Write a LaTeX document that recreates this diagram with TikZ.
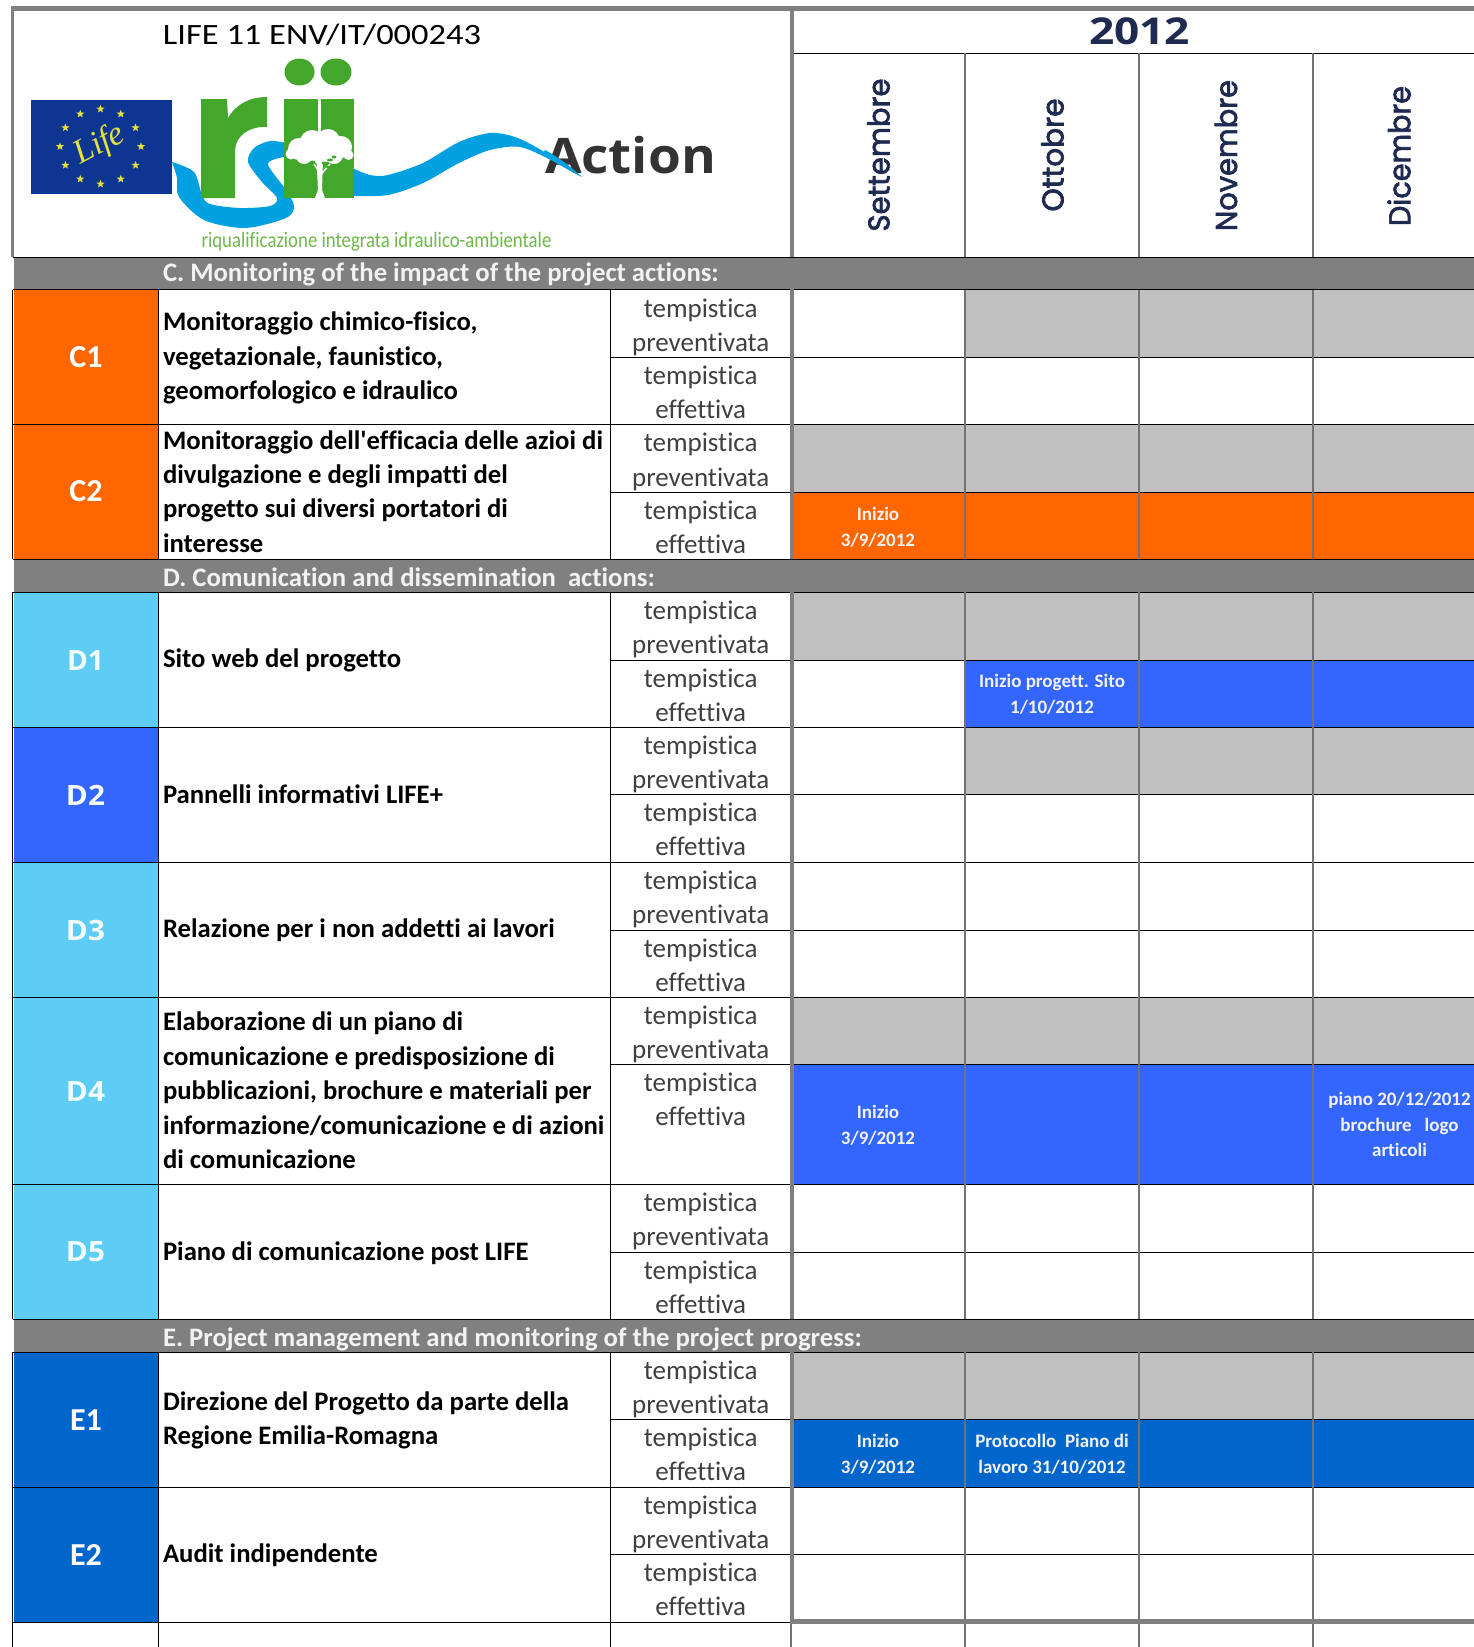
\documentclass[tikz,border=0pt]{standalone}
\usepackage{fontspec}
\usepackage{graphicx}
\usetikzlibrary{shapes.geometric}
\setmainfont[Ligatures={NoCommon,TeXOff}]{Carlito}
\newfontfamily\opensans{Open Sans}
\newfontfamily\poppinsm{Poppins}
\newfontfamily\liberit{Liberation Serif}
\definecolor{bandgray}{HTML}{808080}
\definecolor{cellgray}{HTML}{C0C0C0}
\definecolor{orng}{HTML}{FF6600}
\definecolor{sky}{HTML}{5DCDF5}
\definecolor{brblue}{HTML}{3366FF}
\definecolor{dkblue}{HTML}{0066CC}
\definecolor{navy}{HTML}{1F2A50}
\definecolor{tgray}{HTML}{404040}
\definecolor{lifeblue}{HTML}{0D3692}
\definecolor{lifeyel}{HTML}{E6E03C}
\definecolor{riigreen}{HTML}{43A72B}
\definecolor{rivblue}{HTML}{00A0E1}
\definecolor{subgreen}{HTML}{6FB84C}
\newcommand{\fw}[2]{\resizebox{#1pt}{\height}{#2}}
\newcommand{\heavy}[1]{\special{pdf:code q 2 Tr 0.7 w}#1\special{pdf:code Q}}
\tikzset{
  x=1pt,y=-1pt,
  lbl/.style={inner sep=0pt,outer sep=0pt},
  desc/.style={lbl,anchor=west,align=left,font=\fontsize{26.7}{34.4}\selectfont\bfseries,text=black},
  tempo/.style={lbl,anchor=north,align=center,font=\fontsize{27}{34.8}\selectfont,text=tgray},
  band/.style={lbl,anchor=base west,font=\fontsize{26.7}{30}\selectfont\bfseries,text=white!95!black},
  idc/.style={lbl,font=\fontsize{32}{36}\selectfont\bfseries,text=white},
  idd/.style={lbl,font=\fontsize{28}{36}\opensans\bfseries,text=white!92!sky},
  note/.style={lbl,align=center,font=\fontsize{19}{25.6}\selectfont\bfseries,text=white!95!black},
  month/.style={lbl,rotate=90,font=\fontsize{30}{34}\poppinsm,text=navy},
  hline/.style={black,line width=1pt},
  vline/.style={black,line width=0.9pt},
  mline/.style={black!55,line width=1.3pt},
  thick/.style={bandgray,line width=4.5pt},
  estar/.style={star,star points=5,star point ratio=2.4,fill=lifeyel,inner sep=0pt,minimum size=8.5pt}
}
\begin{document}
\begin{tikzpicture}
\useasboundingbox (0,0) rectangle (1474,1647);
\fill[white] (0,0) rectangle (1474,1647);
% colored id blocks
\fill[orng] (14,290) rectangle (158,559);
\fill[sky] (14,592) rectangle (158,727);
\fill[brblue] (14,727) rectangle (158,862);
\fill[sky] (14,862) rectangle (158,1319);
\fill[dkblue] (14,1352) rectangle (158,1622);
% month cells
\def\mA{794}\def\mB{965}\def\mC{1139}\def\mD{1313}\def\mE{1474}
\fill[cellgray] (\mB,290) rectangle (\mE,357);
\fill[cellgray] (\mA,424.5) rectangle (\mE,492);
\fill[orng] (\mA,492) rectangle (\mE,559);
\fill[cellgray] (\mA,592) rectangle (\mE,660);
\fill[brblue] (\mB,660) rectangle (\mE,727);
\fill[cellgray] (\mB,727) rectangle (\mE,794);
\fill[cellgray] (\mA,997) rectangle (\mE,1064);
\fill[brblue] (\mA,1064) rectangle (\mE,1184);
\fill[cellgray] (\mA,1352) rectangle (\mE,1419);
\fill[dkblue] (\mA,1419) rectangle (\mE,1487);
% river behind logo letters
\fill[rivblue] plot[smooth] coordinates {(172,162) (177,178) (179,197) (204,220) (245,228) (286,218) (294,206) (286,190) (268,164) (284,157)}
  -- (286,143)
  -- plot[smooth] coordinates {(286,143) (270,141) (254,148) (248,162) (262,182) (277,198) (270,206) (240,208) (210,204) (202,195) (194,172) (172,162)} -- cycle;
\fill[rivblue] plot[smooth] coordinates {(352,168) (370,175) (388,175) (423,163) (459,142) (490,133) (515,137) (541,150) (582,177)}
  -- plot[smooth] coordinates {(582,177) (551,160) (520,147) (490,150) (459,163) (423,183) (388,195) (352,196)} -- cycle;
% logo flag
\fill[lifeblue] (30.5,99.5) rectangle (171.5,193.5);
\foreach \a in {0,30,...,330}{
  \node[estar] (star\a) at ({100.5+40.5*cos(\a)},{146.5+37.5*sin(\a)}) {};
}
\node[lbl,rotate=28,font=\fontsize{34}{36}\liberit\itshape,text=lifeyel] (lifetxt) at (100,145) {Life};
% rii letters
\fill[riigreen] (201,99) -- (227,99) -- (228,118) .. controls (236,104) and (250,97) .. (267,97)
  -- (267,127) .. controls (250,126) and (236,135) .. (235,150) -- (235,198) -- (201,198) -- cycle;
\fill[riigreen] (284,99) rectangle (318,198);
\fill[riigreen] (320.7,99) rectangle (354,198);
\fill[riigreen] (299.5,72) ellipse [x radius=15,y radius=13.5];
\fill[riigreen] (336,72) ellipse [x radius=15.5,y radius=13.5];
% tree
\fill[white] (299,149) circle (11) (291,154) circle (5.5) (312,142) circle (12) (328,141) circle (12)
  (341,147) circle (11) (348.5,155) circle (5) (320,151) circle (13) (334,155) circle (9) (304,156) circle (8);
\fill[white] (316.5,160) -- (323,160) -- (322,190) -- (325,198) -- (315,198) -- (318,190) -- cycle;
\draw[white,line width=1.6pt] (319.5,176) -- (330,164) (319.5,172) -- (311,160);
\fill[riigreen] (324,163) ellipse [x radius=2.5,y radius=1.5] (330,160) ellipse [x radius=3,y radius=1.5] (334,157) ellipse [x radius=2.5,y radius=1.5] (328,167) ellipse [x radius=2,y radius=1.3] (313,162.5) ellipse [x radius=2.5,y radius=2];
% title texts
\node[lbl,anchor=base,font=\fontsize{29.5}{30}\selectfont] (lifecode) at (322,44) {\fw{318}{LIFE 11 ENV/IT/000243}};
\node[lbl,anchor=base,font=\fontsize{22}{24}\selectfont,text=subgreen] (subt) at (376.5,247) {\fw{350}{riqualificazione integrata idraulico-ambientale}};
\node[lbl,anchor=base,font=\fontsize{49}{50}\opensans\bfseries,text=black!80] (action) at (630.5,173) {\fw{171}{Action}};
\fill[rivblue] (545,150) .. controls (560,158) and (572,168) .. (582,177) .. controls (568,170) and (555,162) .. (542,155) -- cycle;
% 2012 and months
\node[lbl,font=\fontsize{37}{40}\opensans\bfseries,text=navy] (year) at (1139.5,31) {\fw{101}{2012}};
\node[month] (m1) at (878.5,155) {\fw{153}{\heavy{Settembre}}};
\node[month] (m2) at (1052.5,155) {\fw{113}{\heavy{Ottobre}}};
\node[month] (m3) at (1226,155.5) {\fw{151}{\heavy{Novembre}}};
\node[month] (m4) at (1399,156) {\fw{140}{\heavy{Dicembre}}};
% grey bands
\fill[bandgray] (14,257) rectangle (1474,289);
\fill[bandgray] (14,559) rectangle (1474,592);
\fill[bandgray] (14,1319) rectangle (1474,1352);
\node[band] (bc) at (163,281.5) {C. Monitoring of the impact of the project actions:};
\node[band] (bd) at (163,586.5) {D. Comunication and dissemination\ \ actions:};
\node[band] (be) at (163,1346.5) {E. Project management and monitoring of the project progress:};
% horizontal lines
\foreach \y in {289.5,424.5,559,592,727,862,997,1184,1319,1352,1487,1622}{\draw[hline] (12.5,\y) -- (\mE,\y);}
\foreach \y in {357,492,660,794,930,1064,1252,1419,1554}{\draw[hline] (611,\y) -- (\mE,\y);}
\draw[hline] (794,53) -- (\mE,53);
\draw[hline] (12.5,257) -- (\mE,257);
% verticals
\foreach \a/\b in {290/559,592/1319,1352/1647}{
  \draw[vline] (12.5,\a) -- (12.5,\b);
  \draw[vline] (158.5,\a) -- (158.5,\b);
  \draw[vline] (610.5,\a) -- (610.5,\b);
  \draw[mline] (965,\a) -- (965,\b);
  \draw[mline] (1139,\a) -- (1139,\b);
  \draw[mline] (1313,\a) -- (1313,\b);
}
\draw[mline] (965,53) -- (965,257);
\draw[mline] (1139,53) -- (1139,257);
\draw[mline] (1313,53) -- (1313,257);
\draw[mline] (791,1622) -- (791,1647);
% thick frame
\draw[thick] (11,8.5) -- (\mE,8.5);
\draw[bandgray,line width=3pt] (12.5,7) -- (12.5,257);
\foreach \a/\b in {7/257,289/559,592/1319,1352/1622}{\draw[thick] (792,\a) -- (792,\b);}
\draw[thick] (790,1621.5) -- (\mE,1621.5);
% id labels
\node[idc] (c1) at (86,357) {C1};
\node[idc] (c2) at (86,491.5) {C2};
\node[idd] (d1) at (85.5,660) {\fw{37}{D1}};
\node[idd] (d2) at (85.5,795) {\fw{39}{D2}};
\node[idd] (d3) at (85.5,930) {\fw{39}{D3}};
\node[idd] (d4) at (85.5,1091) {\fw{39}{D4}};
\node[idd] (d5) at (85.5,1252) {\fw{39}{D5}};
\node[idc] (e1) at (86,1420.5) {E1};
\node[idc] (e2) at (86,1554.5) {E2};
% descriptions
\node[desc] (t1) at (163,358) {Monitoraggio chimico-fisico,\\vegetazionale, faunistico,\\geomorfologico e idraulico};
\node[desc] (t2) at (163,491.5) {Monitoraggio dell'efficacia delle azioi di\\divulgazione e degli impatti del\\progetto sui diversi portatori di\\interesse};
\node[desc] (t3) at (163,660.5) {Sito web del progetto};
\node[desc] (t4) at (163,794.5) {Pannelli informativi LIFE+};
\node[desc] (t5) at (163,930) {Relazione per i non addetti ai lavori};
\node[desc] (t6) at (163,1090.5) {Elaborazione di un piano di\\comunicazione e predisposizione di\\pubblicazioni, brochure e materiali per\\informazione/comunicazione e di azioni\\di comunicazione};
\node[desc] (t7) at (163,1253) {Piano di comunicazione post LIFE};
\node[desc] (t8) at (163,1420.5) {Direzione del Progetto da parte della\\Regione Emilia-Romagna};
\node[desc] (t9) at (163,1555) {Audit indipendente};
% tempistica
\foreach \n/\y in {a/290,b/424.5,c/592,d/727,e/862,f/997,g/1184,h/1352,i/1487}{
  \node[tempo] (tp\n) at (700.7,\y+8.5) {tempistica\\preventivata};
}
\foreach \n/\y in {a/357,b/492,c/660,d/794,e/930,f/1064,g/1252,h/1419,i/1554}{
  \node[tempo] (te\n) at (700.7,\y+8.5) {tempistica\\effettiva};
}
% notes
\node[note] (n1) at (878,527) {Inizio\\3/9/2012};
\node[note] (n2) at (1052,694.5) {Inizio progett. Sito\\1/10/2012};
\node[note] (n3) at (878,1125) {Inizio\\3/9/2012};
\node[note] (n4) at (1399.5,1124.5) {piano 20/12/2012\\brochure\ \ \ logo\\articoli};
\node[note] (n5) at (878,1454) {Inizio\\3/9/2012};
\node[note] (n6) at (1052,1454) {Protocollo\ \ Piano di\\lavoro 31/10/2012};
\end{tikzpicture}
\end{document}
